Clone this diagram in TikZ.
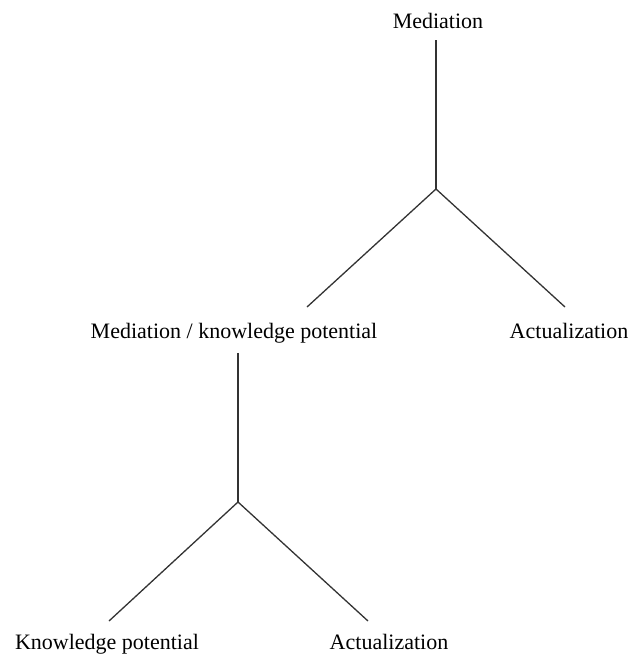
\documentclass[tikz,border=0pt]{standalone}
\usepackage{fontspec}
\setmainfont{Liberation Serif}
\usetikzlibrary{positioning}

\begin{document}
\begin{tikzpicture}[x=1pt,y=-1pt,
    every node/.style={font=\fontsize{22}{25}\selectfont, inner sep=0pt, anchor=base},
    branch/.style={line width=1.3pt, color=black!80}]
    \useasboundingbox (0,0) rectangle (637,654);

    % labels
    \node (med)   at (438,28)  {Mediation};
    \node (medkp) at (234,338) {Mediation / knowledge potential};
    \node (act1)  at (569,338) {Actualization};
    \node (kp)    at (107,649) {Knowledge potential};
    \node (act2)  at (389,649) {Actualization};

    % forks
    \coordinate (j1) at (436,189);
    \coordinate (e1l) at (307,307);
    \coordinate (e1r) at (565,307);
    \coordinate (j2) at (238,502);
    \coordinate (e2l) at (109,621);
    \coordinate (e2r) at (368,621);

    \draw[branch] ([yshift=-12pt]med.south -| j1) -- (j1);
    \draw[branch] (e1l) -- (j1) -- (e1r);
    \draw[branch] ([yshift=-10pt]medkp.south -| j2) -- (j2);
    \draw[branch] (e2l) -- (j2) -- (e2r);

\end{tikzpicture}
\end{document}
